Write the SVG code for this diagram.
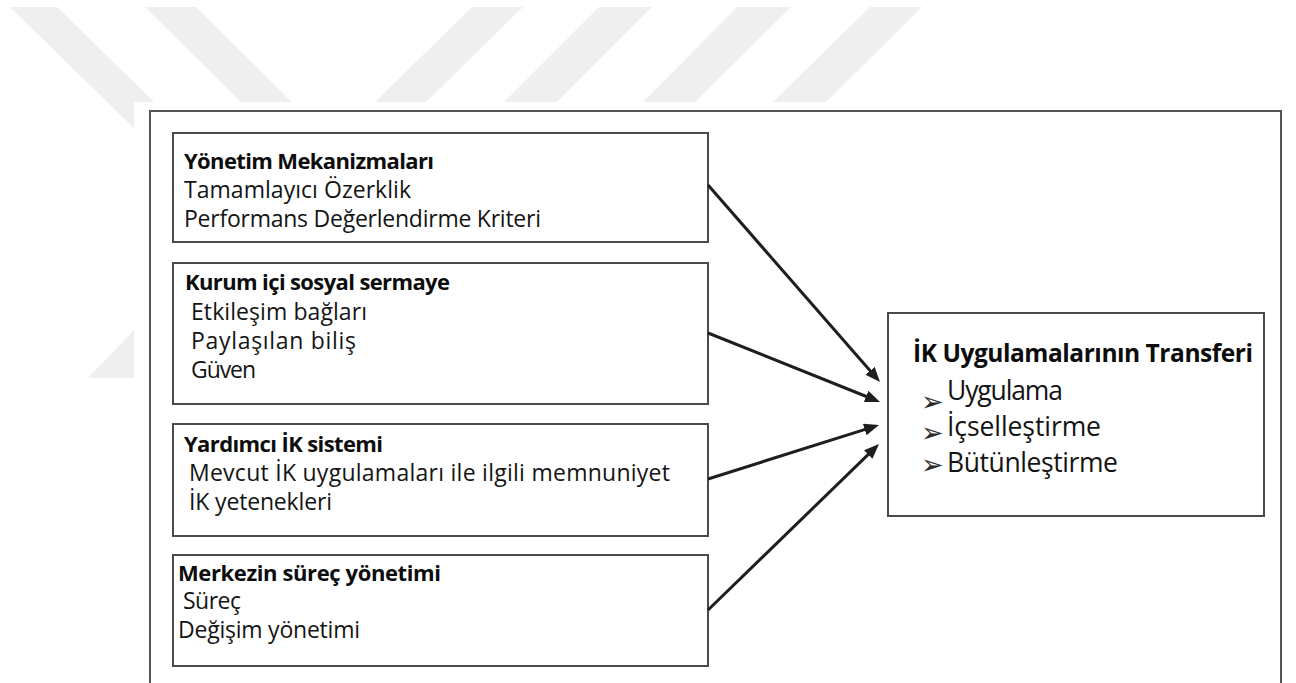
<svg xmlns="http://www.w3.org/2000/svg" width="1296" height="683" viewBox="0 0 1296 683">
  <style>
    .wm { fill: #efefef; }
    .box { fill: #ffffff; stroke: #4a4a4a; stroke-width: 2; }
    .t { font-family: "Open Sans", "Liberation Sans", sans-serif; font-size: 23px; fill: #141414; }
    .b { font-family: "Open Sans", "Liberation Sans", sans-serif; font-size: 22px; font-weight: bold; fill: #0d0d0d; }
    .rt { font-family: "Open Sans", "Liberation Sans", sans-serif; font-size: 26.5px; fill: #141414; }
    .rb { font-family: "Open Sans", "Liberation Sans", sans-serif; font-size: 24.5px; font-weight: bold; fill: #0d0d0d; }
    .bul { font-family: "DejaVu Sans", sans-serif; font-size: 27px; fill: #2a2a2a; }
    .con { stroke: #1e1e1e; stroke-width: 3; fill: none; marker-end: url(#ah); }
  </style>
  <defs>
    <marker id="ah" markerUnits="userSpaceOnUse" markerWidth="15" markerHeight="12" viewBox="0 0 15 12" refX="3" refY="6" orient="auto">
      <path d="M0,0 L15,6 L0,12 z" fill="#1e1e1e"/>
    </marker>
  </defs>
  <rect width="1296" height="683" fill="#ffffff"/>
  <g id="watermark">
    <polygon class="wm" points="10,7 57,7 193,140 146,140"/>
    <polygon class="wm" points="145,7 196,7 292,102 241,102"/>
    <polygon class="wm" points="472,7 523,7 426,102 375,102"/>
    <polygon class="wm" points="599,7 652,7 557,102 504,102"/>
    <polygon class="wm" points="737,7 791,7 695,102 643,102"/>
    <polygon class="wm" points="870,7 922,7 826,102 773,102"/>
    <polygon class="wm" points="136,328 136,378 88,378"/>
  </g>
  <rect x="134" y="102" width="1162" height="581" fill="#ffffff"/>
  <g id="frame">
    <path d="M150,690 L150,111 L1281,111 L1281,690" fill="none" stroke="#555555" stroke-width="2"/>
  </g>
  <g id="node-yonetim">
    <rect class="box" x="173" y="133" width="535" height="109"/>
    <text class="b" x="184" y="169" textLength="250">Yönetim Mekanizmaları</text>
    <text class="t" x="184" y="198" textLength="227">Tamamlayıcı Özerklik</text>
    <text class="t" x="184" y="227" textLength="357">Performans Değerlendirme Kriteri</text>
  </g>
  <g id="node-kurum">
    <rect class="box" x="173" y="263" width="535" height="141"/>
    <text class="b" x="185" y="290" textLength="265">Kurum içi sosyal sermaye</text>
    <text class="t" x="191" y="320" textLength="176">Etkileşim bağları</text>
    <text class="t" x="191" y="349" textLength="165">Paylaşılan biliş</text>
    <text class="t" x="191" y="378" textLength="65">Güven</text>
  </g>
  <g id="node-yardimci">
    <rect class="box" x="173" y="424" width="535" height="112"/>
    <text class="b" x="184" y="452" textLength="199">Yardımcı İK sistemi</text>
    <text class="t" x="189" y="481" textLength="481">Mevcut İK uygulamaları ile ilgili memnuniyet</text>
    <text class="t" x="189" y="510" textLength="143">İK yetenekleri</text>
  </g>
  <g id="node-merkez">
    <rect class="box" x="173" y="555" width="535" height="111"/>
    <text class="b" x="178" y="581" textLength="263">Merkezin süreç yönetimi</text>
    <text class="t" x="183" y="609" textLength="58">Süreç</text>
    <text class="t" x="178" y="638" textLength="182">Değişim yönetimi</text>
  </g>
  <g id="node-transfer">
    <rect class="box" x="888" y="313" width="376" height="203" stroke-width="2.5"/>
    <text class="rb" x="913" y="362" textLength="340">İK Uygulamalarının Transferi</text>
    <text class="bul" x="921" y="411" font-size="23">➢</text>
    <text class="rt" x="947" y="400" textLength="116">Uygulama</text>
    <text class="bul" x="921" y="442">➢</text>
    <text class="rt" x="947" y="436" textLength="154">İçselleştirme</text>
    <text class="bul" x="921" y="474">➢</text>
    <text class="rt" x="947" y="472" textLength="171">Bütünleştirme</text>
  </g>
  <g id="connectors">
    <line class="con" x1="708" y1="185" x2="872.1" y2="373.0"/>
    <line class="con" x1="708" y1="333" x2="868.9" y2="397.5"/>
    <line class="con" x1="708" y1="479" x2="867.6" y2="428.6"/>
    <line class="con" x1="708" y1="610" x2="870.4" y2="452.4"/>
  </g>
</svg>
